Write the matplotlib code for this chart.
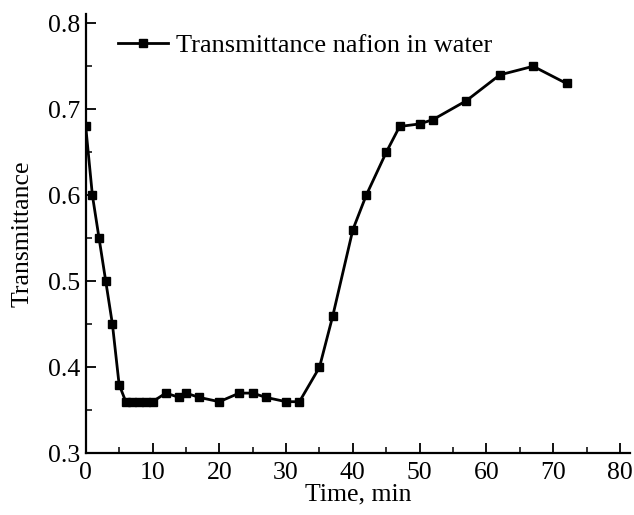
import matplotlib
matplotlib.use("Agg")
import matplotlib.pyplot as plt
from matplotlib.ticker import MultipleLocator

# time (min) and transmittance
time_min = [0, 1, 2, 3, 4, 5, 6, 7, 8, 9, 10, 12, 14, 15, 17, 20, 23, 25, 27,
            30, 32, 35, 37, 40, 42, 45, 47, 50, 52, 57, 62, 67, 72]
transmittance = [0.68, 0.60, 0.55, 0.50, 0.45, 0.38, 0.36, 0.36, 0.36, 0.36, 0.36,
                 0.37, 0.365, 0.37, 0.365, 0.36, 0.37, 0.37, 0.365,
                 0.36, 0.36, 0.40, 0.46, 0.56, 0.60, 0.65, 0.68, 0.683, 0.688,
                 0.71, 0.74, 0.75, 0.73]

plt.rcParams['font.family'] = ['Liberation Serif', 'DejaVu Serif']

fig = plt.figure(figsize=(6.34, 5.15), dpi=100)
ax = fig.add_axes([0.1352, 0.1198, 0.8585, 0.853])

ax.plot(time_min, transmittance, color='black', linewidth=2.0, marker='s',
        markersize=6, label='Transmittance nafion in water')

ax.set_xlim(0, 81.5)
ax.set_ylim(0.3, 0.8108)
ax.xaxis.set_major_locator(MultipleLocator(10))
ax.xaxis.set_minor_locator(MultipleLocator(5))
ax.yaxis.set_major_locator(MultipleLocator(0.1))
ax.yaxis.set_minor_locator(MultipleLocator(0.05))
ax.set_xticks([0, 10, 20, 30, 40, 50, 60, 70, 80])
ax.set_yticks([0.3, 0.4, 0.5, 0.6, 0.7, 0.8])
ax.set_yticklabels(['0.3', '0.4', '0.5', '0.6', '0.7', '0.8'])

for s in ['top', 'right']:
    ax.spines[s].set_visible(False)
for s in ['left', 'bottom']:
    ax.spines[s].set_linewidth(1.6)

ax.tick_params(which='major', direction='in', length=7, width=1.3, labelsize=18.5, pad=4)
ax.tick_params(axis='x', which='major', pad=6)
ax.tick_params(which='minor', direction='in', length=4, width=1.1)

ax.set_xlabel('Time, min', fontsize=18.5, labelpad=0)
ax.set_ylabel('Transmittance', fontsize=18.5, labelpad=10)

ax.legend(loc='upper left', frameon=False, fontsize=19, handlelength=1.9,
          handletextpad=0.3, bbox_to_anchor=(0.015, 1.01))

fig.savefig('out.png', dpi=100)
